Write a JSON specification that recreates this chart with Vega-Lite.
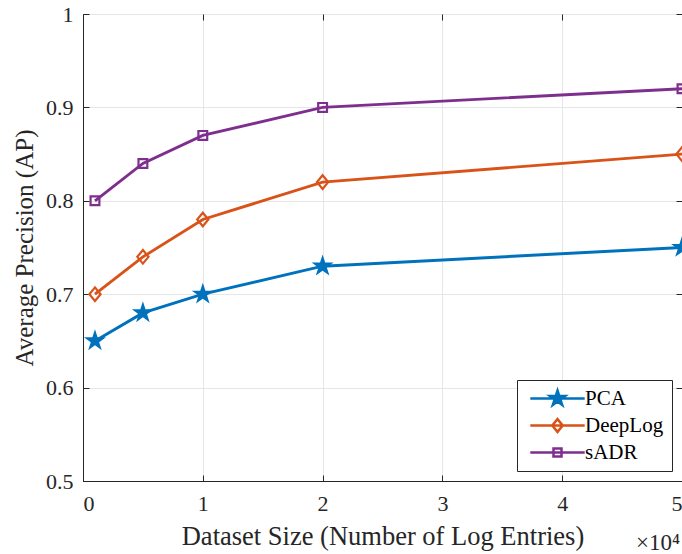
{
  "$schema": "https://vega.github.io/schema/vega-lite/v6.json",
  "width": 599,
  "height": 467,
  "autosize": {"type": "none"},
  "padding": {"left": 83, "top": 14, "right": 0, "bottom": 73},
  "background": "white",
  "title": {
    "text": "×10⁴",
    "orient": "bottom",
    "anchor": "end",
    "frame": "group",
    "offset": -18,
    "dx": -2,
    "font": "Liberation Serif",
    "fontSize": 23,
    "fontWeight": "normal",
    "color": "#262626"
  },
  "config": {
    "view": {"stroke": "#262626", "strokeWidth": 1},
    "font": "Liberation Serif",
    "axis": {
      "labelFont": "Liberation Serif",
      "labelFontSize": 22,
      "labelColor": "#262626",
      "titleFont": "Liberation Serif",
      "titleFontSize": 25,
      "titleFontWeight": "normal",
      "titleColor": "#262626",
      "domainColor": "#262626",
      "tickColor": "#262626",
      "gridColor": "#e6e6e6",
      "gridWidth": 1
    }
  },
  "data": {
    "values": [
      {"series": "PCA", "size": 0.1, "ap": 0.65},
      {"series": "PCA", "size": 0.5, "ap": 0.68},
      {"series": "PCA", "size": 1, "ap": 0.70},
      {"series": "PCA", "size": 2, "ap": 0.73},
      {"series": "PCA", "size": 5, "ap": 0.75},
      {"series": "DeepLog", "size": 0.1, "ap": 0.70},
      {"series": "DeepLog", "size": 0.5, "ap": 0.74},
      {"series": "DeepLog", "size": 1, "ap": 0.78},
      {"series": "DeepLog", "size": 2, "ap": 0.82},
      {"series": "DeepLog", "size": 5, "ap": 0.85},
      {"series": "sADR", "size": 0.1, "ap": 0.80},
      {"series": "sADR", "size": 0.5, "ap": 0.84},
      {"series": "sADR", "size": 1, "ap": 0.87},
      {"series": "sADR", "size": 2, "ap": 0.90},
      {"series": "sADR", "size": 5, "ap": 0.92}
    ]
  },
  "resolve": {
    "scale": {"shape": "independent", "stroke": "independent", "fill": "independent"},
    "axis": {"x": "independent", "y": "independent"}
  },
  "layer": [
    {
      "mark": {"type": "line", "strokeWidth": 2.9},
      "encoding": {
        "x": {
          "field": "size", "type": "quantitative",
          "scale": {"domain": [0, 5], "nice": false, "zero": false},
          "axis": {
            "orient": "bottom",
            "values": [0, 1, 2, 3, 4, 5],
            "format": "~g",
            "grid": true,
            "tickSize": -6,
            "labelFont": "Liberation Serif",
            "labelFontSize": 22,
            "labelPadding": 18,
            "title": "Dataset Size (Number of Log Entries)",
            "titleFont": "Liberation Serif",
            "titleFontSize": 26.5,
            "titlePadding": 9
          }
        },
        "y": {
          "field": "ap", "type": "quantitative",
          "scale": {"domain": [0.5, 1], "nice": false, "zero": false},
          "axis": {
            "orient": "left",
            "values": [0.5, 0.6, 0.7, 0.8, 0.9, 1],
            "format": "~g",
            "grid": true,
            "tickSize": -6,
            "labelFont": "Liberation Serif",
            "labelFontSize": 22,
            "labelPadding": 16,
            "title": "Average Precision (AP)",
            "titleFont": "Liberation Serif",
            "titleFontSize": 25,
            "titlePadding": 8
          }
        },
        "stroke": {
          "field": "series", "type": "nominal",
          "scale": {"domain": ["PCA", "DeepLog", "sADR"], "range": ["#0072BD", "#D95319", "#7E2F8E"]},
          "legend": null
        },
        "detail": {"field": "series"}
      }
    },
    {
      "mark": {"type": "point", "filled": true, "size": 256, "strokeWidth": 2.2, "opacity": 1},
      "encoding": {
        "x": {"field": "size", "type": "quantitative", "axis": null},
        "y": {"field": "ap", "type": "quantitative", "axis": null},
        "stroke": {
          "field": "series", "type": "nominal",
          "scale": {"domain": ["PCA", "DeepLog", "sADR"], "range": ["#0072BD", "#D95319", "#7E2F8E"]},
          "legend": null
        },
        "fill": {
          "field": "series", "type": "nominal",
          "scale": {"domain": ["PCA", "DeepLog", "sADR"], "range": ["#0072BD", "transparent", "transparent"]},
          "legend": null
        },
        "shape": {
          "field": "series", "type": "nominal",
          "scale": {
            "domain": ["PCA", "DeepLog", "sADR"],
            "range": [
              "M0,-1L0.2245,-0.309L0.951,-0.309L0.363,0.118L0.588,0.809L0,0.382L-0.588,0.809L-0.363,0.118L-0.951,-0.309L-0.2245,-0.309Z",
              "M0,-0.85L0.7,0L0,0.85L-0.7,0Z",
              "M-0.55,-0.55L0.55,-0.55L0.55,0.55L-0.55,0.55Z"
            ]
          },
          "legend": null
        }
      }
    },
    {
      "mark": {"type": "point", "filled": true, "size": 256, "strokeWidth": 2.5, "opacity": 0},
      "encoding": {
        "x": {
          "field": "size", "type": "quantitative",
          "axis": {"orient": "top", "values": [0, 1, 2, 3, 4, 5], "labels": false, "domain": false, "grid": false, "tickSize": -6, "title": null}
        },
        "y": {
          "field": "ap", "type": "quantitative",
          "axis": {"orient": "right", "values": [0.5, 0.6, 0.7, 0.8, 0.9, 1], "labels": false, "domain": false, "grid": false, "tickSize": -6, "title": null}
        },
        "stroke": {
          "field": "series", "type": "nominal",
          "scale": {"domain": ["PCA", "DeepLog", "sADR"], "range": ["#0072BD", "#D95319", "#7E2F8E"]},
          "legend": {
            "title": null,
            "orient": "none",
            "legendX": 434,
            "legendY": 366,
            "direction": "vertical",
            "symbolSize": 256,
            "symbolOffset": 22,
            "symbolOpacity": 1,
            "symbolStrokeWidth": 2.5,
            "labelOffset": 17,
            "rowPadding": 4,
            "padding": 8,
            "labelFont": "Liberation Serif",
            "labelFontSize": 21,
            "labelColor": "#000000",
            "strokeColor": "#262626",
            "fillColor": "white",
            "cornerRadius": 0
          }
        },
        "fill": {
          "field": "series", "type": "nominal",
          "scale": {"domain": ["PCA", "DeepLog", "sADR"], "range": ["#0072BD", "transparent", "transparent"]},
          "legend": {
            "title": null,
            "orient": "none",
            "legendX": 434,
            "legendY": 366,
            "direction": "vertical",
            "symbolSize": 256,
            "symbolOffset": 22,
            "symbolOpacity": 1,
            "symbolStrokeWidth": 2.5,
            "labelOffset": 17,
            "rowPadding": 4,
            "padding": 8,
            "labelFont": "Liberation Serif",
            "labelFontSize": 21,
            "labelColor": "#000000",
            "strokeColor": "#262626",
            "fillColor": "white",
            "cornerRadius": 0
          }
        },
        "shape": {
          "field": "series", "type": "nominal",
          "scale": {
            "domain": ["PCA", "DeepLog", "sADR"],
            "range": [
              "M-3.4,0L3.4,0M0,-1L0.2245,-0.309L0.951,-0.309L0.363,0.118L0.588,0.809L0,0.382L-0.588,0.809L-0.363,0.118L-0.951,-0.309L-0.2245,-0.309Z",
              "M-3.4,0L3.4,0M0,-0.8L0.65,0L0,0.8L-0.65,0Z",
              "M-3.4,0L3.4,0M-0.5,-0.5L0.5,-0.5L0.5,0.5L-0.5,0.5Z"
            ]
          },
          "legend": {
            "title": null,
            "orient": "none",
            "legendX": 434,
            "legendY": 366,
            "direction": "vertical",
            "symbolSize": 256,
            "symbolOffset": 22,
            "symbolOpacity": 1,
            "symbolStrokeWidth": 2.5,
            "labelOffset": 17,
            "rowPadding": 4,
            "padding": 8,
            "labelFont": "Liberation Serif",
            "labelFontSize": 21,
            "labelColor": "#000000",
            "strokeColor": "#262626",
            "fillColor": "white",
            "cornerRadius": 0
          }
        }
      }
    }
  ]
}
